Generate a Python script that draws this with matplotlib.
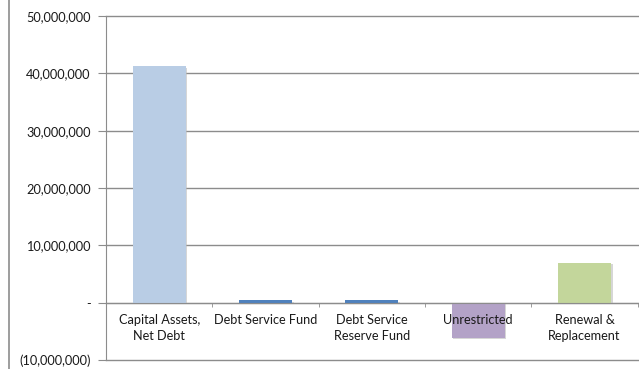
import matplotlib
matplotlib.use("Agg")
import matplotlib.pyplot as plt
from matplotlib.lines import Line2D
from matplotlib.ticker import FuncFormatter, MultipleLocator
import matplotlib.patheffects as pe

categories = ["Capital Assets,\nNet Debt", "Debt Service Fund", "Debt Service\nReserve Fund",
              "Unrestricted", "Renewal &\nReplacement"]
values = [41200000, 450000, 450000, -6100000, 7000000]
colors = ["#B9CDE5", "#4F81BD", "#4F81BD", "#B3A2C7", "#C3D69B"]

plt.rcParams['font.family'] = ['Lato', 'DejaVu Sans']

fig = plt.figure(figsize=(6.39, 3.69), dpi=100)
ax = fig.add_axes([0.166, 0.0244, 0.832, 0.9322])

x = list(range(len(categories)))
bars = ax.bar(x, values, width=0.5, color=colors, zorder=3,
              path_effects=[pe.SimplePatchShadow(offset=(1.2, -1.2), shadow_rgbFace='#bbbbbb', alpha=0.6), pe.Normal()])

ax.set_xlim(-0.5, 4.5)
ax.set_ylim(-10000000, 50000000)
ax.yaxis.set_major_locator(MultipleLocator(10000000))

def fmt(v, pos):
    if abs(v) < 1:
        return "-"
    if v < 0:
        return "({:,.0f})".format(-v)
    return "{:,.0f}".format(v)
ax.yaxis.set_major_formatter(FuncFormatter(fmt))

ax.grid(axis='y', color='#8c8c8c', linewidth=1.0, zorder=0)
ax.set_axisbelow(True)
for gl in ax.get_ygridlines():
    gl.set_clip_on(False)

for s in ['top', 'right']:
    ax.spines[s].set_visible(False)
ax.spines['left'].set_color('#8c8c8c')
ax.spines['bottom'].set_color('#8c8c8c')
ax.spines['bottom'].set_position(('data', 0))
ax.spines['bottom'].set_zorder(4)

ax.set_xticks(x)
ax.set_xticklabels(categories, fontsize=9.2, color='#1a1a1a', linespacing=1.4)
ax.set_xticks([i + 0.5 for i in range(-1, 5)], minor=True)
ax.tick_params(axis='x', which='major', length=0, pad=8)
ax.tick_params(axis='x', which='minor', length=3, color='#8c8c8c', direction='out')
ax.tick_params(axis='y', length=6, color='#8c8c8c', labelsize=9.2, labelcolor='#1a1a1a', pad=5)
ax.xaxis.set_zorder(5)

fig.add_artist(Line2D([8.5/639, 8.5/639], [0, 1], color='#8c8c8c', linewidth=1.2))

fig.savefig("out.png", dpi=100)
